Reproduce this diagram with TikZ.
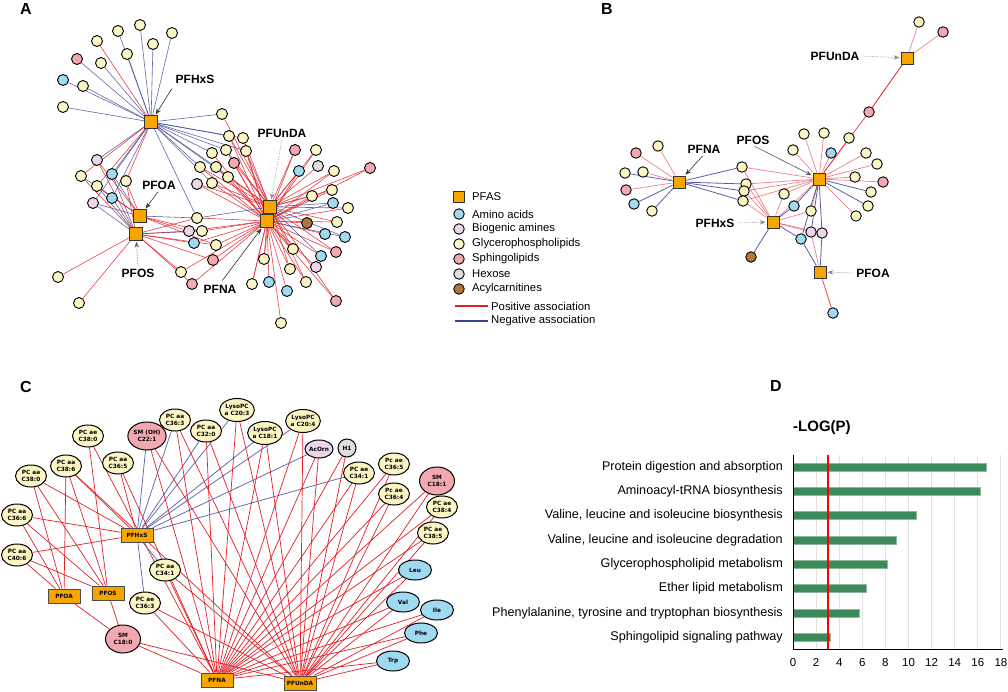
\documentclass[tikz,border=0pt]{standalone}
\usepackage{fontspec}
\setmainfont{Liberation Sans}
\newfontfamily\djv{DejaVu Sans}
\usetikzlibrary{shapes.geometric,arrows.meta}
\definecolor{pfas}{RGB}{247,166,0}
\definecolor{gpl}{RGB}{252,246,196}
\definecolor{amino}{RGB}{160,218,240}
\definecolor{biogenic}{RGB}{236,214,234}
\definecolor{sphingo}{RGB}{242,168,176}
\definecolor{hexose}{RGB}{222,222,222}
\definecolor{acyl}{RGB}{176,120,56}
\definecolor{posred}{RGB}{228,30,38}
\definecolor{threshred}{RGB}{255,0,0}
\definecolor{negblue}{RGB}{60,66,150}
\definecolor{bargreen}{RGB}{60,138,90}
\definecolor{gridgray}{RGB}{225,225,225}
\pgfdeclarelayer{bg}
\pgfdeclarelayer{edges}
\pgfsetlayers{bg,edges,main}
\newcommand\lblfnt{\fontsize{12}{14}\selectfont\bfseries}
\newcommand\panelfnt{\fontsize{16}{18}\selectfont\bfseries}
\newcommand\legfnt{\fontsize{11.3}{13}\selectfont}
\newcommand\cfnt{\djv\bfseries\fontsize{5.8}{6.6}\selectfont}
\newcommand\dfnt{\fontsize{12.6}{14}\selectfont}
\newcommand\tickfnt{\fontsize{11.5}{13}\selectfont}
\tikzset{
  mnode/.style={circle, draw=black, line width=0.9pt, minimum size=11pt, inner sep=0pt},
  bnode/.style={mnode, minimum size=10.5pt},
  sqA/.style={rectangle, draw=black!80, line width=0.8pt, fill=pfas, minimum size=12.5pt, inner sep=0pt},
  sqB/.style={sqA, minimum size=12pt},
  posA/.style={draw=posred, line width=0.6pt, opacity=0.85},
  negA/.style={draw=negblue, line width=0.6pt, opacity=0.8},
  posB/.style={draw=posred, line width=0.7pt, opacity=0.55},
  negB/.style={draw=negblue, line width=0.8pt, opacity=0.85},
  posC/.style={draw=posred, line width=0.7pt},
  negC/.style={draw=negblue!85, line width=0.7pt},
  lbl/.style={font=\lblfnt, inner sep=1pt},
  larr/.style={-{Stealth[length=6pt,width=4.5pt]}, line width=0.6pt, draw=black!80, shorten <=2pt, shorten >=1pt},
  ldot/.style={larr, draw=black!45, densely dotted},
  panel/.style={font=\panelfnt, inner sep=0pt},
  cell/.style={ellipse, draw=black, line width=1pt, inner sep=0pt, align=center, font=\cfnt, fill=gpl, minimum width=31pt, minimum height=22pt},
  clyso/.style={cell, minimum width=34pt, minimum height=23pt},
  csm/.style={cell, fill=sphingo, minimum width=35pt, minimum height=28pt},
  camino/.style={cell, fill=amino, minimum width=33pt, minimum height=20pt},
  cbox/.style={rectangle, draw=black!70, line width=0.8pt, fill=pfas, minimum width=32pt, minimum height=14pt, inner sep=0pt, font=\cfnt},
  legtxt/.style={anchor=west, font=\legfnt, inner sep=0pt},
}
\begin{document}
\begin{tikzpicture}[x=1pt,y=-1pt]
\useasboundingbox (0,0) rectangle (1008,692);
\begin{pgfonlayer}{bg}
\fill[white] (0,0) rectangle (1008,692);
\end{pgfonlayer}

% ---------------- Panel labels
\node[panel] (pA) at (26,9) {A};
\node[panel] (pB) at (607,9) {B};
\node[panel] (pC) at (26,387) {C};
\node[panel] (pD) at (776,386) {D};

% ---------------- Panel A nodes
\foreach \n/\x/\y in {a1/140/25, a2/118/31, a3/172/33, a4/97/41, a5/153/44, a6/127/54, a8/101/63, a10/83/86, a11/63/107, a12/222/114, a13/229/136, a14/243/138, a15/212/153, a16/226/150, a17/246/151, a19/200/167, a20/216/167, a21/228/177, a23/212/183, a25/316/150, a28/334/171, a30/312/196, a31/332/190, a33/348/208, a35/337/222, a38/197/218, a40/202/231, a42/216/245, a43/293/249, a47/264/259, a48/290/269, a50/181/272, a52/252/284, a55/306/282, a57/281/323, a59/81/176, a61/97/186, a62/126/181, a65/58/277, a66/79/303}
  \node[mnode, fill=gpl] (\n) at (\x,\y) {};
\foreach \n/\x/\y in {a7/77/59, a18/234/163, a24/295/150, a29/370/168, a45/336/252, a46/213/260, a51/192/284, a56/336/301}
  \node[mnode, fill=sphingo] (\n) at (\x,\y) {};
\foreach \n/\x/\y in {a9/63/80, a27/299/171, a32/333/203, a36/325/234, a37/345/237, a41/194/243, a44/321/256, a53/269/282, a54/287/291, a60/112/174, a63/112/198}
  \node[mnode, fill=amino] (\n) at (\x,\y) {};
\foreach \n/\x/\y in {a22/197/184, a39/189/231, a49/316/267, a58/97/160, a64/93/203}
  \node[mnode, fill=biogenic] (\n) at (\x,\y) {};
\node[mnode, fill=hexose] (a26) at (318,166) {};
\node[mnode, fill=acyl] (a34) at (307,223) {};
\node[sqA] (APFHxS) at (151,122) {};
\node[sqA] (APFUnDA) at (270,207) {};
\node[sqA] (APFNA) at (267,221) {};
\node[sqA] (APFOA) at (140,216) {};
\node[sqA] (APFOS) at (136,234) {};
\node[lbl] (LAhxs) at (195,79) {PFHxS};
\node[lbl] (LAund) at (282,133) {PFUnDA};
\node[lbl] (LAoa) at (159,185) {PFOA};
\node[lbl] (LAos) at (138,273) {PFOS};
\node[lbl] (LAna) at (220,289) {PFNA};
\draw[larr, shorten <=5pt] (LAhxs.south west) -- (APFHxS);
\draw[ldot] (LAund.south) -- (APFUnDA);
\draw[larr] (LAoa.south) -- (APFOA);
\draw[ldot, draw=black!60] (LAos.north) -- (APFOS);
\draw[larr, shorten <=4pt] (LAna.north) -- (APFNA);

% ---------------- Panel B nodes
\foreach \n/\x/\y in {b1/919/22, b4/804/134, b5/824/133, b6/849/138, b7/793/150, b9/866/153, b10/877/164, b11/855/177, b13/871/192, b14/868/206, b15/856/216, b16/742/167, b17/746/184, b18/744/191, b19/743/201, b20/784/194, b22/811/211, b28/658/146, b30/625/173, b31/643/172, b34/652/211}
  \node[bnode, fill=gpl] (\n) at (\x,\y) {};
\foreach \n/\x/\y in {b2/943/32, b3/869/112, b12/883/182, b29/636/153, b32/626/190}
  \node[bnode, fill=sphingo] (\n) at (\x,\y) {};
\foreach \n/\x/\y in {b8/831/153, b21/794/206, b25/801/239, b27/833/313, b33/634/204}
  \node[bnode, fill=amino] (\n) at (\x,\y) {};
\node[bnode, fill=biogenic] (b23) at (811,232) {};
\node[bnode, fill=biogenic] (b24) at (822,233) {};
\node[bnode, fill=acyl] (b26) at (751,257) {};
\node[sqB] (BPFUnDA) at (907,58) {};
\node[sqB] (BPFOS) at (819,179) {};
\node[sqB] (BPFNA) at (679,182) {};
\node[sqB] (BPFHxS) at (773,222) {};
\node[sqB] (BPFOA) at (820,272) {};
\node[lbl] (LBund) at (835,56) {PFUnDA};
\node[lbl] (LBos) at (753,140) {PFOS};
\node[lbl] (LBna) at (704,149) {PFNA};
\node[lbl] (LBhxs) at (715,223) {PFHxS};
\node[lbl] (LBoa) at (873,273) {PFOA};
\draw[ldot] (LBund.east) -- (BPFUnDA);
\draw[larr, draw=black!65] (LBos.south) -- (BPFOS);
\draw[larr] (LBna.south) -- (BPFNA);
\draw[ldot] (LBhxs.east) -- (BPFHxS);
\draw[ldot] (LBoa.west) -- (BPFOA);

% ---------------- Legend
\node[sqB, minimum size=11pt] (lg1) at (459,197) {};
\node[bnode, fill=amino] (lg2) at (459,214) {};
\node[bnode, fill=biogenic] (lg3) at (459,229) {};
\node[bnode, fill=gpl] (lg4) at (459,244) {};
\node[bnode, fill=sphingo] (lg5) at (459,259) {};
\node[bnode, fill=hexose] (lg6) at (459,274) {};
\node[bnode, fill=acyl] (lg7) at (459,289) {};
\node[legtxt] (lt1) at (472,197) {PFAS};
\node[legtxt] (lt2) at (472,214) {Amino acids};
\node[legtxt] (lt3) at (472,229) {Biogenic amines};
\node[legtxt] (lt4) at (472,244) {Glycerophospholipids};
\node[legtxt] (lt5) at (472,259) {Sphingolipids};
\node[legtxt] (lt6) at (472,274) {Hexose};
\node[legtxt] (lt7) at (472,289) {Acylcarnitines};
\coordinate (lp1) at (455,306); \coordinate (lp2) at (488,306);
\coordinate (ln1) at (455,321); \coordinate (ln2) at (488,321);
\draw[posred, line width=1.6pt] (lp1) -- (lp2);
\draw[negblue, line width=1.6pt] (ln1) -- (ln2);
\node[legtxt] (lt8) at (491,306) {Positive association};
\node[legtxt] (lt9) at (491,321) {Negative association};

% ---------------- Panel C nodes
\node[cell] (cpcae380) at (88,436) {PC ae\\C38:0};
\node[csm] (csmoh) at (147,436) {SM (OH)\\C22:1};
\node[cell] (cpcaa363) at (175,420) {PC aa\\C36:3};
\node[cell] (cpcaa320) at (206,431) {PC aa\\C32:0};
\node[clyso] (cl203) at (237,410) {LysoPC\\a C20:3};
\node[clyso] (cl181) at (265,433) {LysoPC\\a C18:1};
\node[clyso] (cl204) at (303,421) {LysoPC\\a C20:4};
\node[cell, fill=biogenic, minimum width=25pt, minimum height=18pt] (cacorn) at (319,449) {AcOrn};
\node[cell, fill=hexose, minimum width=18pt, minimum height=18pt] (ch1) at (347,448) {H1};
\node[cell] (cpcae341) at (359,473) {PC ae\\C34:1};
\node[cell] (cpcae365) at (394,464) {Pc ae\\C36:5};
\node[cell] (cpcae364) at (394,494) {Pc ae\\C36:4};
\node[csm] (csm181) at (437,481) {SM\\C18:1};
\node[cell] (cpcae384) at (442,507) {PC ae\\C38:4};
\node[cell] (cpcae385) at (433,533) {PC ae\\C38:5};
\node[camino] (cleu) at (415,570) {Leu};
\node[camino] (cval) at (403,602) {Val};
\node[camino] (cile) at (437,610) {Ile};
\node[camino] (cphe) at (421,633) {Phe};
\node[camino] (ctrp) at (393,661) {Trp};
\node[cbox] (cpfunda) at (300,683) {PFUnDA};
\node[cbox] (cpfna) at (217,680) {PFNA};
\node[csm] (csm180) at (123,639) {SM\\C18:0};
\node[cell] (cpcae363) at (145,603) {PC ae\\C36:3};
\node[cell] (cpcaa341) at (165,570) {PC aa\\C34:1};
\node[cbox] (cpfhxs) at (137,535) {PFHxS};
\node[cbox] (cpfoa) at (64,596) {PFOA};
\node[cbox] (cpfos) at (108,593) {PFOS};
\node[cell] (cpcaa406) at (17,555) {PC aa\\C40:6};
\node[cell] (cpcaa366) at (17,515) {PC aa\\C36:6};
\node[cell] (cpcaa380) at (31,476) {PC aa\\C38:0};
\node[cell] (cpcaa386) at (66,466) {PC aa\\C38:6};
\node[cell] (cpcaa365) at (118,463) {PC aa\\C36:5};

% ---------------- Panel D
\foreach \v in {2,4,...,18}
  \draw[gridgray, line width=1pt] ({793+11.55*\v},455) -- ({793+11.55*\v},649);
\foreach \v/\yy/\t [count=\i] in {16.7/467/{Protein digestion and absorption}, 16.2/491.3/{Aminoacyl-tRNA biosynthesis}, 10.7/515.7/{Valine, leucine and isoleucine biosynthesis}, 8.9/540/{Valine, leucine and isoleucine degradation}, 8.2/564.3/{Glycerophospholipid metabolism}, 6.3/588.7/{Ether lipid metabolism}, 5.7/613/{Phenylalanine, tyrosine and tryptophan biosynthesis}, 3.2/637.3/{Sphingolipid signaling pathway}}
{
  \fill[bargreen, draw=bargreen!60!white, line width=0.5pt] (793,\yy-4) rectangle ({793+11.55*\v},\yy+4);
  \node[anchor=east, font=\dfnt, inner sep=0pt] (dl\i) at (783,\yy) {\t};
}
\coordinate (thrTop) at ({793+11.55*3},455);
\coordinate (thrBot) at ({793+11.55*3},649);
\draw[draw=threshred, line width=1.8pt] (thrTop) -- (thrBot);
\draw[black, line width=0.9pt] (793,455) -- (793,649) -- (1003,649);
\foreach \v in {0,2,...,18}
  \node[font=\tickfnt, inner sep=0pt, anchor=base] (tk\v) at ({793+11.55*\v},666) {\v};
\node[anchor=west, font=\fontsize{15}{17}\selectfont\bfseries, inner sep=0pt] (dtitle) at (793,428) {-LOG(P)};

% ---------------- Edges
\begin{pgfonlayer}{edges}
% Panel A
\foreach \t in {a1,a2,a3,a5,a6,a7,a8,a9,a10,a11,a12,a13,a14,a15,a16,a17,a19,a20,a21,a23,a58,a60,a63,a64,a38}
  \draw[negA] (APFHxS) -- (\t);
\foreach \t in {a4,a59,a61,a62}
  \draw[posA] (APFHxS) -- (\t);
\foreach \t in {a38,a59,a64,a60}
  \draw[negA] (APFOA) -- (\t);
\foreach \t in {a58,a61,a39,a40,a42,a62}
  \draw[posA] (APFOA) -- (\t);
\foreach \t in {a65,a66,a50,a51,a46,a42,a41,a39,a58,a59,a62,a38}
  \draw[posA] (APFOS) -- (\t);
\foreach \t in {a40,a63,a64,a60,a61}
  \draw[negA] (APFOS) -- (\t);
\foreach \t in {a13,a14,a16,a17,a18,a20,a21,a22,a23,a38,a39,a40,a41,a42,a43,a44,a45,a46,a47,a48,a49,a50,a51,a52,a53,a54,a55,a56,a57,a24,a25,a27,a28,a29,a30,a31,a33,a34,a35,a36,a19,a15}
  \draw[posA] (APFNA) -- (\t);
\foreach \t in {a37,a32}
  \draw[negA] (APFNA) -- (\t);
\foreach \t in {a24,a25,a26,a27,a28,a29,a30,a31,a33,a35,a13,a14,a16,a17,a18,a21,a22,a23,a43,a45,a47,a48,a52,a55,a56,a12,a20,a19}
  \draw[posA] (APFUnDA) -- (\t);
\foreach \t in {a32,a37,a44,a38}
  \draw[negA] (APFUnDA) -- (\t);
% Panel B
\foreach \t in {b1,b2}
  \draw[posB] (BPFUnDA) -- (\t);
\draw[posred, line width=0.8pt] (BPFUnDA) -- (b3);
\draw[posred, line width=0.8pt, opacity=0.8] (b3) -- (BPFOS);
\foreach \t in {b4,b5,b6,b7,b8,b9,b10,b11,b12,b15,b16,b17,b18,b19,b20,b22}
  \draw[posB] (BPFOS) -- (\t);
\foreach \t in {b13,b14,b21,b23,b24,b25}
  \draw[negB] (BPFOS) -- (\t);
\draw[posB] (BPFOS) -- (BPFHxS);
\foreach \t in {b28,b29,b31,b32}
  \draw[posB] (BPFNA) -- (\t);
\foreach \t in {b30,b33,b34,b16,b17,b18,b19}
  \draw[negB] (BPFNA) -- (\t);
\foreach \t in {b16,b17,b18,b19,b20,b22,b23,b24}
  \draw[posB] (BPFHxS) -- (\t);
\foreach \t in {b21,b25,b26}
  \draw[negB] (BPFHxS) -- (\t);
\draw[posred, line width=0.8pt, opacity=0.8] (BPFOA) -- (b27);
\draw[posB] (BPFOA) -- (b23);
\foreach \t in {b24,b25}
  \draw[negB] (BPFOA) -- (\t);
% Panel C
\foreach \t in {csmoh,cpcaa363,cpcaa320,cl203,cl181,cl204,cacorn,cpcae341,cpcaa341,cpcae363}
  \draw[negC] (cpfhxs) -- (\t);
\foreach \t in {cpcaa365,cpcaa366,cpcaa406,cpcaa386,cpcaa380}
  \draw[posC] (cpfhxs) -- (\t);
\foreach \t in {cpcaa366,cpcaa406,cpcaa380,cpcaa386,csm180}
  \draw[posC] (cpfoa) -- (\t);
\foreach \t in {cpcaa366,cpcaa406,cpcaa386,cpcae380,cpcaa380,csm180}
  \draw[posC] (cpfos) -- (\t);
\foreach \t in {cpcae380,csmoh,cpcaa363,cpcaa320,cl203,cl181,cl204,cacorn,ch1,cpcae341,cpcae365,cpcae364,csm181,cpcae384,cpcae385,cleu,cval,cile,cphe,ctrp,cpcaa341,cpcae363,csm180,cpcaa365}
  \draw[posC] (cpfna) -- (\t);
\foreach \t in {csmoh,cpcaa363,cpcaa320,cl203,cl181,cl204,cacorn,ch1,cpcae341,cpcae365,cpcae364,csm181,cpcae384,cpcae385,cleu,cval,cile,cphe,ctrp,cpcaa341,cpcae363,csm180,cpcaa386}
  \draw[posC] (cpfunda) -- (\t);
\end{pgfonlayer}
\end{tikzpicture}
\end{document}
